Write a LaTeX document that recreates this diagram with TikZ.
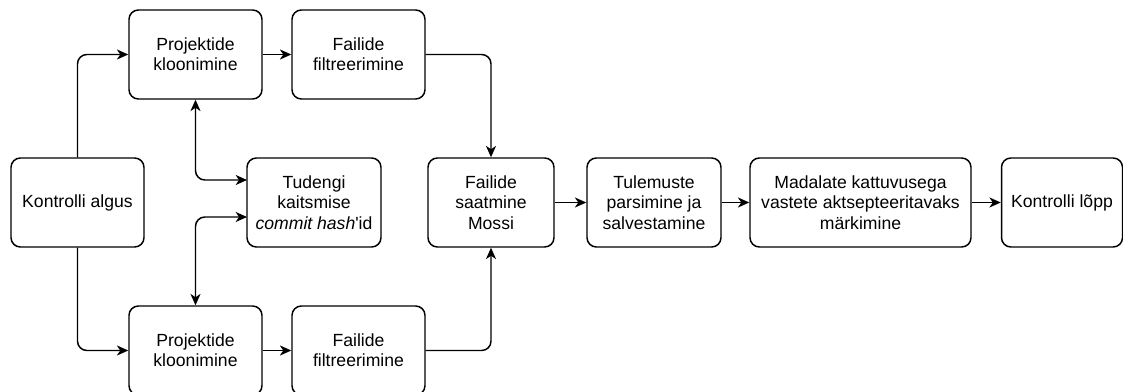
\documentclass[tikz,border=0pt]{standalone}
\usepackage{fontspec}
\setmainfont{Liberation Sans}[Ligatures=TeXOff]
\usetikzlibrary{arrows.meta}
\begin{document}
\begin{tikzpicture}[x=0.75pt,y=-0.75pt,
  box/.style={draw, line width=1.1pt, rounded corners=7pt, align=center,
    minimum width=#1, minimum height=66.75pt, inner sep=0pt,
    font=\fontsize{13.2}{15.3}\selectfont},
  box/.default=99.75pt,
  tip/.tip={Stealth[length=8.5pt,width=7.5pt,inset=2.5pt]},
  arr/.style={line width=1.1pt, rounded corners=7pt, -tip},
  darr/.style={line width=1.1pt, rounded corners=7pt, tip-tip}]
\useasboundingbox (0,0) rectangle (1123,392);
\node[box] (algus) at (77.5,202.5) {Kontrolli algus};
\node[box] (P1) at (195.5,54.5) {Projektide\\kloonimine};
\node[box] (F1) at (358.5,54.5) {Failide\\filtreerimine};
\node[box=100.5pt] (T) at (314,202.5) {Tudengi\\kaitsmise\\\textit{commit hash}'id};
\node[box=94.5pt] (M) at (491,202.5) {Failide\\saatmine\\Mossi};
\node[box=100.5pt] (R) at (654,202.5) {Tulemuste\\parsimine ja\\salvestamine};
\node[box=165.75pt] (Mad) at (860.5,202.5) {Madalate kattuvusega\\vastete aktsepteeritavaks\\märkimine};
\node[box=90.75pt] (End) at (1062,202.5) {Kontrolli lõpp};
\node[box] (P2) at (195.5,350.5) {Projektide\\kloonimine};
\node[box] (F2) at (358.5,350.5) {Failide\\filtreerimine};
\coordinate (t1) at (247,180);
\coordinate (t2) at (247,217);
\draw[arr] (algus.north) |- (P1.west);
\draw[arr] (algus.south) |- (P2.west);
\draw[arr] (P1) -- (F1);
\draw[arr] (P2) -- (F2);
\draw[arr] (F1.east) -| (M.north);
\draw[arr] (F2.east) -| (M.south);
\draw[darr] (P1.south) |- (t1);
\draw[darr] (P2.north) |- (t2);
\draw[arr] (M) -- (R);
\draw[arr] (R) -- (Mad);
\draw[arr] (Mad) -- (End);
\end{tikzpicture}
\end{document}
